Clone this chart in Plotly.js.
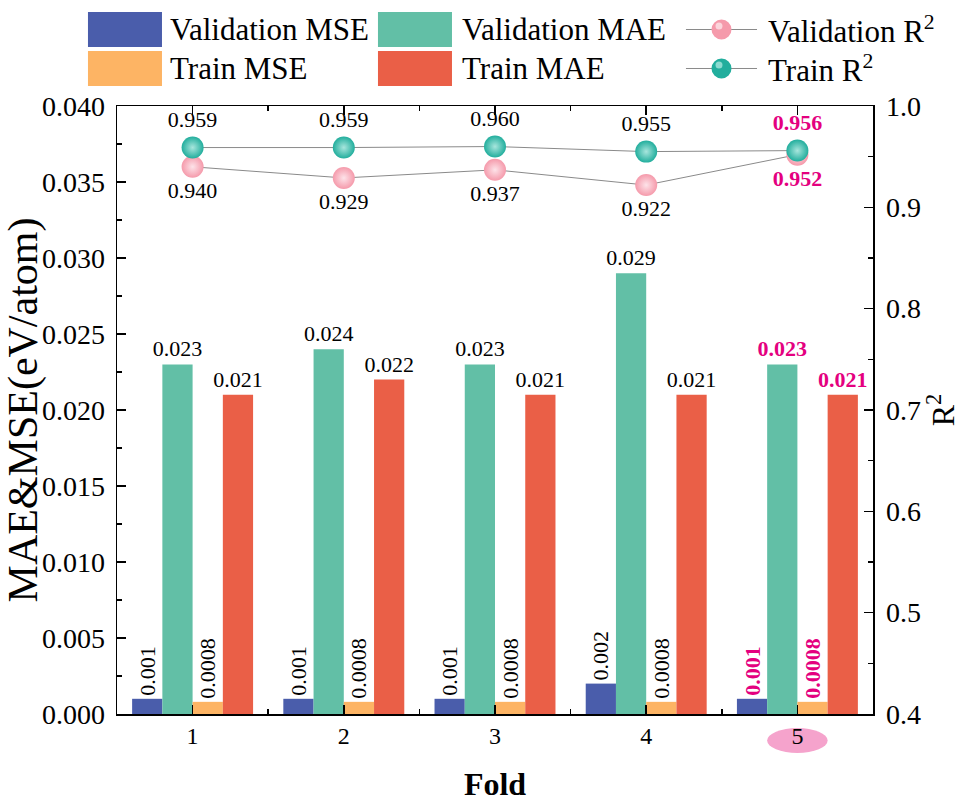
<!DOCTYPE html>
<html>
<head>
<meta charset="utf-8">
<script src="https://cdn.plot.ly/plotly-3.0.1.min.js"></script>
<style>
  html, body { margin: 0; padding: 0; background: #ffffff; }
  #chart { width: 961px; height: 802px; }
</style>
</head>
<body>
<div id="chart"></div>
<script>
// Five-fold cross-validation results
const folds = [1, 2, 3, 4, 5];
const valMSE = [0.001, 0.001, 0.001, 0.002, 0.001];
const valMAE = [0.023, 0.024, 0.023, 0.029, 0.023];
const trainMSE = [0.0008, 0.0008, 0.0008, 0.0008, 0.0008];
const trainMAE = [0.021, 0.022, 0.021, 0.021, 0.021];
const valR2 = [0.940, 0.929, 0.937, 0.922, 0.952];
const trainR2 = [0.959, 0.959, 0.960, 0.955, 0.956];
const bestFold = 5;

const seriesNames = ['Validation MSE', 'Validation MAE', 'Train MSE', 'Train MAE', 'Validation R<sup>2</sup>', 'Train R<sup>2</sup>'];

const colors = {
  valMSE: '#4A5DAB',
  valMAE: '#62BFA6',
  trainMSE: '#FDB464',
  trainMAE: '#EA5F47',
  valR2: '#F59AAB',
  valR2Glow: '#FDE3E9',
  trainR2: '#22AE9D',
  trainR2Glow: '#A8E6DD',
  link: '#8a8a8a',
  accent: '#E4007F',
  badge: '#F5A3CC'
};

const FONT = '"Liberation Serif", "Times New Roman", serif';

// Labels for the best fold are shown bold in the accent colour
function labels(values, digits) {
  return values.map((v, i) => {
    const s = v.toFixed(digits);
    return folds[i] === bestFold ? '<b>' + s + '</b>' : s;
  });
}
function labelColors(values) {
  return values.map((v, i) => folds[i] === bestFold ? colors.accent : '#000000');
}

function barTrace(name, values, color, digits, angle) {
  return {
    type: 'bar',
    name: name,
    x: folds,
    y: values,
    marker: { color: color, line: { width: 0 } },
    text: labels(values, digits),
    textposition: 'outside',
    textangle: angle,
    constraintext: 'none',
    cliponaxis: false,
    textfont: { family: FONT, size: 22, color: labelColors(values) },
    showlegend: false,
    hoverinfo: 'x+y'
  };
}

function r2Trace(name, values, color, glow, pos) {
  return {
    type: 'scatter',
    mode: 'lines+markers+text',
    name: name,
    x: folds,
    y: values,
    yaxis: 'y2',
    line: { color: colors.link, width: 1 },
    marker: {
      size: 22,
      color: color,
      line: { width: 0 },
      gradient: { type: 'radial', color: glow }
    },
    text: labels(values, 3),
    textposition: pos,
    textfont: { family: FONT, size: 22, color: labelColors(values) },
    cliponaxis: false,
    showlegend: false
  };
}

const data = [
  barTrace(seriesNames[0], valMSE, colors.valMSE, 3, -90),
  barTrace(seriesNames[1], valMAE, colors.valMAE, 3, 0),
  barTrace(seriesNames[2], trainMSE, colors.trainMSE, 4, -90),
  barTrace(seriesNames[3], trainMAE, colors.trainMAE, 3, 0),
  r2Trace(seriesNames[4], valR2, colors.valR2, colors.valR2Glow, 'bottom center'),
  r2Trace(seriesNames[5], trainR2, colors.trainR2, colors.trainR2Glow, 'top center')
];

// Legend drawn as swatches and labels above the plot area
const legendItems = [
  { kind: 'bar', color: colors.valMSE, name: seriesNames[0], col: 0, row: 0 },
  { kind: 'bar', color: colors.trainMSE, name: seriesNames[2], col: 0, row: 1 },
  { kind: 'bar', color: colors.valMAE, name: seriesNames[1], col: 1, row: 0 },
  { kind: 'bar', color: colors.trainMAE, name: seriesNames[3], col: 1, row: 1 },
  { kind: 'line', color: colors.valR2, glow: colors.valR2Glow, name: seriesNames[4], col: 2, row: 0 },
  { kind: 'line', color: colors.trainR2, glow: colors.trainR2Glow, name: seriesNames[5], col: 2, row: 1 }
];
const colX = [[-0.0384, 0.0595, 0.0675], [0.3452, 0.4431, 0.4537], [0.7526, 0.8466, 0.8585]];
const rowY = [1.1258, 1.0617];
const rowH = 0.0288;

const shapes = [];
const annotations = [];
legendItems.forEach(it => {
  const [x0, x1, tx] = colX[it.col];
  const yc = rowY[it.row];
  if (it.kind === 'bar') {
    shapes.push({ type: 'rect', xref: 'paper', yref: 'paper', x0: x0, x1: x1,
      y0: yc - rowH, y1: yc + rowH, fillcolor: it.color, line: { width: 0 } });
  } else {
    shapes.push({ type: 'line', xref: 'paper', yref: 'paper', x0: x0, x1: x1,
      y0: yc, y1: yc, line: { color: colors.link, width: 1 } });
    shapes.push({ type: 'circle', xref: 'paper', yref: 'paper',
      xsizemode: 'pixel', ysizemode: 'pixel', xanchor: (x0 + x1) / 2, yanchor: yc,
      x0: -10, x1: 10, y0: -10, y1: 10, fillcolor: it.color, line: { width: 0 } });
    shapes.push({ type: 'circle', xref: 'paper', yref: 'paper',
      xsizemode: 'pixel', ysizemode: 'pixel', xanchor: (x0 + x1) / 2, yanchor: yc,
      x0: -6, x1: 1, y0: 0, y1: 7, fillcolor: it.glow, opacity: 0.8, line: { width: 0 } });
  }
  annotations.push({ xref: 'paper', yref: 'paper', x: tx, y: yc, xanchor: 'left', yanchor: 'middle',
    text: it.name, showarrow: false, font: { family: FONT, size: 31, color: '#000' } });
});

// Highlight behind the best fold's tick label
shapes.push({ type: 'circle', xref: 'x', yref: 'paper', layer: 'below',
  x0: bestFold - 0.2, x1: bestFold + 0.2, y0: -0.064, y1: -0.023,
  fillcolor: colors.badge, line: { width: 0 } });

const layout = {
  width: 961,
  height: 802,
  margin: { l: 117, r: 88, t: 106, b: 88, pad: 0 },
  paper_bgcolor: '#ffffff',
  plot_bgcolor: '#ffffff',
  font: { family: FONT, color: '#000' },
  barmode: 'group',
  bargap: 0.2,
  bargroupgap: 0,
  showlegend: false,
  xaxis: {
    range: [0.5, 5.5],
    tickvals: folds,
    ticktext: folds.map(String),
    ticks: 'inside',
    ticklen: 9,
    tickwidth: 1.5,
    tickcolor: '#000',
    minor: { tickvals: [1.5, 2.5, 3.5, 4.5], ticks: 'inside', ticklen: 5, tickwidth: 1.5, tickcolor: '#000' },
    showline: true,
    linecolor: '#000',
    linewidth: 1.5,
    mirror: 'ticks',
    showgrid: false,
    zeroline: false,
    tickfont: { family: FONT, size: 24 },
    title: { text: '<b>Fold</b>', font: { family: FONT, size: 32 }, standoff: 26 }
  },
  yaxis: {
    range: [0, 0.04],
    dtick: 0.005,
    tickformat: '.3f',
    ticks: 'inside',
    ticklen: 9,
    tickwidth: 1.5,
    tickcolor: '#000',
    minor: { dtick: 0.0025, ticks: 'inside', ticklen: 5, tickwidth: 1.5, tickcolor: '#000' },
    ticklabelstandoff: 5,
    showline: true,
    linecolor: '#000',
    linewidth: 1.5,
    mirror: true,
    showgrid: false,
    zeroline: false,
    tickfont: { family: FONT, size: 28 },
    title: { text: 'MAE&amp;MSE(eV/atom)', font: { family: FONT, size: 42 }, standoff: 0 }
  },
  yaxis2: {
    overlaying: 'y',
    side: 'right',
    range: [0.4, 1.0],
    dtick: 0.1,
    tickformat: '.1f',
    ticks: 'inside',
    ticklen: 9,
    tickwidth: 1.5,
    tickcolor: '#000',
    minor: { dtick: 0.05, ticks: 'inside', ticklen: 5, tickwidth: 1.5, tickcolor: '#000' },
    ticklabelstandoff: 6,
    showline: true,
    linecolor: '#000',
    linewidth: 1.5,
    showgrid: false,
    zeroline: false,
    tickfont: { family: FONT, size: 28 },
    title: { text: 'R<sup>2</sup>', font: { family: FONT, size: 32 }, standoff: 0 }
  },
  shapes: shapes,
  annotations: annotations
};

Plotly.newPlot('chart', data, layout, { displayModeBar: false, staticPlot: true });
</script>
</body>
</html>
